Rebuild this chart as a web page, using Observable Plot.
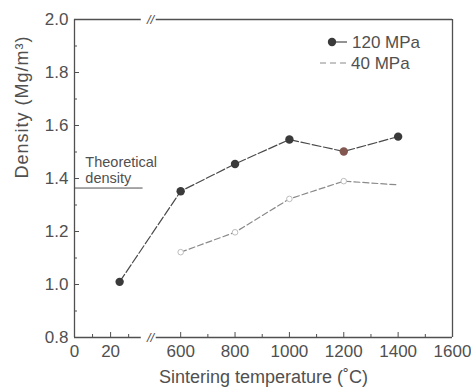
<!DOCTYPE html>
<html>
<head>
<meta charset="utf-8">
<script src="https://cdn.jsdelivr.net/npm/d3@7"></script>
<script src="https://cdn.jsdelivr.net/npm/@observablehq/plot@0.6"></script>
<style>
  html, body { margin: 0; padding: 0; background: #fff; }
  #chart { position: relative; width: 471px; height: 391px; }
</style>
</head>
<body>
<div id="chart"></div>
<script>
// ---- data ----
const temps120 = [25, 600, 800, 1000, 1200, 1400];
const dens120  = [1.01, 1.352, 1.455, 1.547, 1.502, 1.558];
const temps40  = [600, 800, 1000, 1200, 1400];
const dens40   = [1.122, 1.197, 1.323, 1.39, 1.376];
const theoreticalDensity = 1.364;
const theoryLabel = "Theoretical\ndensity";
const xTicks = [0, 20, 600, 800, 1000, 1200, 1400, 1600];
const xMinor = [10, 30, 700, 900, 1100, 1300, 1500];
const yTicks = [0.8, 1.0, 1.2, 1.4, 1.6, 1.8, 2.0];
const yMinor = [0.9, 1.1, 1.3, 1.5, 1.7, 1.9];
const seriesNames = ["120 MPa", "40 MPa"];
const xLabel = "Sintering temperature (˚C)";
const yLabel = "Density (Mg/m³)";

const data120 = temps120.map((T, i) => ({T, d: dens120[i]}));
const data40 = temps40.map((T, i) => ({T, d: dens40[i]}));

const ink = "#505050";
const font = "'Liberation Sans', Arial, sans-serif";

// broken x axis: 0–41 on the left piece, 500–1600 on the right piece
const breakLo = 41, breakHi = 500, loSpan = 74, gap = 5, hiSpan = 299;
const brokenX = T => T <= breakLo ? T * loSpan / breakLo
  : T >= breakHi ? loSpan + gap + (T - breakHi) * hiSpan / (1600 - breakHi)
  : loSpan + gap * (T - breakLo) / (breakHi - breakLo);

const chart = Plot.plot({
  width: 471,
  height: 391,
  marginLeft: 74,
  marginRight: 19,
  marginTop: 19,
  marginBottom: 54,
  style: {fontFamily: font, fontSize: "17px", color: ink, background: "#fff"},
  x: {transform: brokenX, domain: [0, loSpan + gap + hiSpan]},
  y: {domain: [0.8, 2.0]},
  marks: [
    // frame
    Plot.ruleX([0, 1600], {x: d => d, stroke: ink, strokeWidth: 1.3}),
    Plot.ruleY([0.8, 2.0], {x1: 0, x2: 37, stroke: ink, strokeWidth: 1.3}),
    Plot.ruleY([0.8, 2.0], {x1: 510, x2: 1600, stroke: ink, strokeWidth: 1.3}),
    Plot.text([0.8, 2.0], {x: breakLo, y: d => d, dx: 2, text: () => "//", fontSize: 13, fontStyle: "italic", fill: ink}),
    // inward ticks
    Plot.ruleX(xTicks.slice(1, -1), {x: d => d, insetTop: 313, stroke: ink}),
    Plot.ruleX(xMinor, {x: d => d, insetTop: 315, stroke: ink}),
    Plot.ruleY(yTicks.slice(1, -1), {y: d => d, insetRight: 373, stroke: ink}),
    Plot.ruleY(yMinor, {y: d => d, insetRight: 375, stroke: ink}),
    // axes (tick labels only)
    Plot.axisX(xTicks, {tickSize: 0, tickPadding: 7, tickFormat: d => String(d), fontSize: 17, label: null}),
    Plot.axisY(yTicks, {tickSize: 0, tickPadding: 6, tickFormat: d3.format(".1f"), fontSize: 17, label: null}),
    // axis titles
    Plot.text([xLabel], {frameAnchor: "bottom", dy: 45, fontSize: 18, fill: ink}),
    Plot.text([yLabel], {frameAnchor: "left", dx: -52, rotate: -90, fontSize: 18, fill: ink}),
    // theoretical density
    Plot.ruleY([theoreticalDensity], {x1: 0, x2: 38, stroke: ink, strokeWidth: 1}),
    Plot.text([theoryLabel], {x: 6, y: theoreticalDensity, dy: -5, textAnchor: "start", lineAnchor: "bottom",
      lineHeight: 1.1, fontSize: 14.5, fill: ink}),
    // series
    Plot.line(data40, {x: "T", y: "d", stroke: "#8a8a8a", strokeWidth: 1.2, strokeDasharray: "6,3"}),
    Plot.dot(data40.slice(0, -1), {x: "T", y: "d", r: 2.8, fill: "#fff", stroke: "#bdbdbd", strokeWidth: 1}),
    Plot.line(data120, {x: "T", y: "d", stroke: "#4a4a4a", strokeWidth: 1.2, strokeDasharray: "9,2.5"}),
    Plot.dot(data120, {x: "T", y: "d", r: 4.2, fill: d => d.T === 1200 ? "#82574f" : "#3a3a3a", stroke: "none"})
  ]
});

document.getElementById("chart").appendChild(chart);

const svg = d3.select(chart);
// slight letter spacing on the y title, as in the scan
svg.selectAll("text").filter(function() { return this.textContent === yLabel; }).attr("letter-spacing", "1px");

// legend inside the frame, top-right
const lg = svg.append("g").attr("font-family", font).attr("font-size", 17).attr("fill", ink).attr("text-anchor", "start");
lg.append("line").attr("x1", 332).attr("x2", 347).attr("y1", 42).attr("y2", 42).attr("stroke", "#4a4a4a").attr("stroke-width", 1.2);
lg.append("circle").attr("cx", 332).attr("cy", 42).attr("r", 4.2).attr("fill", "#3a3a3a");
lg.append("text").attr("x", 352).attr("y", 42).attr("dy", "0.35em").text(seriesNames[0]);
lg.append("line").attr("x1", 320).attr("x2", 347).attr("y1", 63).attr("y2", 63).attr("stroke", "#8a8a8a").attr("stroke-width", 1.2).attr("stroke-dasharray", "6,4");
lg.append("text").attr("x", 351).attr("y", 63).attr("dy", "0.35em").text(seriesNames[1]);
</script>
</body>
</html>
